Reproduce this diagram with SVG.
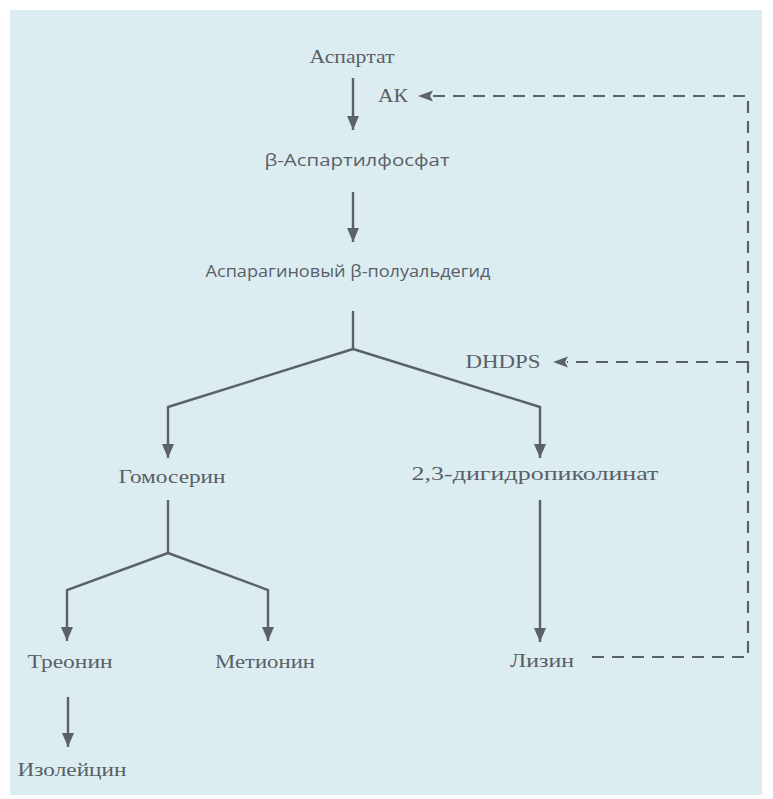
<svg xmlns="http://www.w3.org/2000/svg" width="773" height="799" viewBox="0 0 773 799">
  <defs>
    <marker id="ah" viewBox="0 0 12 14" refX="14" refY="6" markerWidth="12" markerHeight="14" markerUnits="userSpaceOnUse" orient="auto">
      <path d="M0,0 L14,6 L0,12 Z" fill="#5b6168"/>
    </marker>
    <style>
      .t { font-family: "Liberation Serif", "Times New Roman", serif; font-size: 18px; fill: #5a5f66; text-anchor: middle; }
      .s { font-family: "Open Sans", "Noto Sans", sans-serif; font-size: 17px; fill: #5a5f66; text-anchor: middle; }
      .ln { fill: none; stroke: #5b6168; stroke-width: 2.4; }
      .ar { fill: none; stroke: #5b6168; stroke-width: 2.4; marker-end: url(#ah); }
      .dash { fill: none; stroke: #5b6168; stroke-width: 2.2; stroke-dasharray: 12 8; }
    </style>
  </defs>
  <rect x="0" y="0" width="773" height="799" fill="#ffffff"/>
  <rect x="10" y="10" width="752" height="785" fill="#dcedf2"/>

  <g id="connectors">
    <line class="ar" x1="353" y1="78" x2="353" y2="130"/>
    <line class="ar" x1="353" y1="192" x2="353" y2="242"/>
    <polyline class="ln" points="353,311 353,349"/>
    <polyline class="ar" points="353,349 168,407 168,458"/>
    <polyline class="ar" points="353,349 540,407 540,458"/>
    <polyline class="ln" points="168,500 168,553"/>
    <polyline class="ar" points="168,553 67,590 67,641"/>
    <polyline class="ar" points="168,553 268,590 268,641"/>
    <line class="ar" x1="540" y1="500" x2="540" y2="642"/>
    <line class="ar" x1="68" y1="697" x2="68" y2="747"/>
    <polyline class="dash" points="592,657 748,657 748,96 432,96"/>
    <path d="M418,96 L433,90.5 L430,96 L433,101.5 Z" fill="#5b6168"/>
    <line class="dash" x1="748" y1="362" x2="567" y2="362"/>
    <path d="M553,362 L568,356.5 L565,362 L568,367.5 Z" fill="#5b6168"/>
  </g>

  <g id="aspartate"><text class="t" x="352" y="63" textLength="85" lengthAdjust="spacingAndGlyphs">Аспартат</text></g>
  <g id="ak"><text class="t" x="393" y="102" textLength="30" lengthAdjust="spacingAndGlyphs">АК</text></g>
  <g id="aspartylphosphate"><text class="s" x="357" y="166" textLength="185" lengthAdjust="spacingAndGlyphs">β-Аспартилфосфат</text></g>
  <g id="semialdehyde"><text class="s" x="348" y="277" textLength="285" lengthAdjust="spacingAndGlyphs">Аспарагиновый β-полуальдегид</text></g>
  <g id="dhdps"><text class="t" x="503" y="368" textLength="75" lengthAdjust="spacingAndGlyphs">DHDPS</text></g>
  <g id="homoserine"><text class="t" x="172" y="483" textLength="107" lengthAdjust="spacingAndGlyphs">Гомосерин</text></g>
  <g id="dihydropicolinate"><text class="t" x="535" y="480" textLength="247" lengthAdjust="spacingAndGlyphs">2,3-дигидропиколинат</text></g>
  <g id="threonine"><text class="t" x="70" y="668" textLength="85" lengthAdjust="spacingAndGlyphs">Треонин</text></g>
  <g id="methionine"><text class="t" x="265" y="668" textLength="100" lengthAdjust="spacingAndGlyphs">Метионин</text></g>
  <g id="lysine"><text class="t" x="542" y="667" textLength="64" lengthAdjust="spacingAndGlyphs">Лизин</text></g>
  <g id="isoleucine"><text class="t" x="72" y="776" textLength="109" lengthAdjust="spacingAndGlyphs">Изолейцин</text></g>
</svg>
